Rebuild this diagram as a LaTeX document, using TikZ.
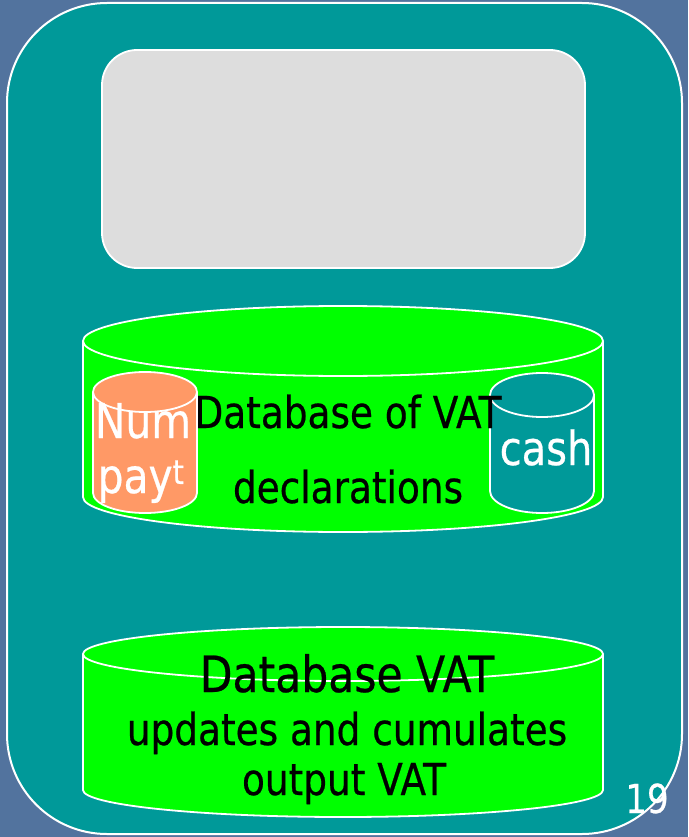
\documentclass[tikz,border=0pt]{standalone}
\usepackage{fontspec}
\setmainfont{DejaVu Sans}[FakeStretch=0.85,FakeBold=0.5]
\definecolor{bgblue}{HTML}{52739E}
\definecolor{tealbox}{HTML}{009999}
\definecolor{greybox}{HTML}{DDDDDD}
\definecolor{dbgreen}{HTML}{00FF00}
\definecolor{salmon}{HTML}{FF9966}
\newcommand\drawcyl[6]{%
  \fill[#6] (#1-#2,#3) -- (#1-#2,#4) arc[start angle=180,end angle=360,x radius=#2pt,y radius=#5pt] -- (#1+#2,#3) -- cycle;
  \draw[rim] (#1-#2,#3) -- (#1-#2,#4) arc[start angle=180,end angle=360,x radius=#2pt,y radius=#5pt] -- (#1+#2,#3);
  \filldraw[rim, fill=#6] (#1,#3) ellipse [x radius=#2pt, y radius=#5pt];
}
\begin{document}
\begin{tikzpicture}[x=1pt,y=-1pt,
  rim/.style={draw=white,line width=1.8pt},
  txt/.style={inner sep=0pt, anchor=base},
  big/.style={txt,font=\fontsize{44}{50}\selectfont},
  bigw/.style={txt,text=white,font=\fontsize{48}{54}\selectfont}]
\fill[bgblue] (0,0) rectangle (688,837);
\useasboundingbox (0,0) rectangle (688,837);
\filldraw[draw=white, line width=2pt, fill=tealbox, rounded corners=100pt] (7,3) rectangle (682,834);
\filldraw[rim, fill=greybox, rounded corners=35pt] (102,50) rectangle (585,268);
% upper database
\drawcyl{343}{260}{341}{497}{35}{dbgreen}
\drawcyl{145}{52}{392}{493}{20}{salmon}
\drawcyl{542}{52}{395}{491}{22}{tealbox}
\node[bigw] (num) at (143,438) {Num};
\node[bigw] (pay) at (141,493) {pay\textsuperscript{t}};
\node[bigw,font=\fontsize{47}{54}\selectfont] (cash) at (546,465) {cash};
\node[big] (db1) at (348,428) {Database of VAT};
\node[big] (decl) at (348,503) {declarations};
% lower database
\drawcyl{343}{260}{654}{790}{27}{dbgreen}
\node[big,font=\fontsize{50}{56}\selectfont] (db2) at (347,692) {Database VAT};
\node[big] (upd) at (347,745) {updates and cumulates};
\node[big] (out) at (344,795) {output VAT};
\node[txt,text=white,font=\fontsize{40}{46}\selectfont] (pg) at (647,813) {19};
\end{tikzpicture}
\end{document}
